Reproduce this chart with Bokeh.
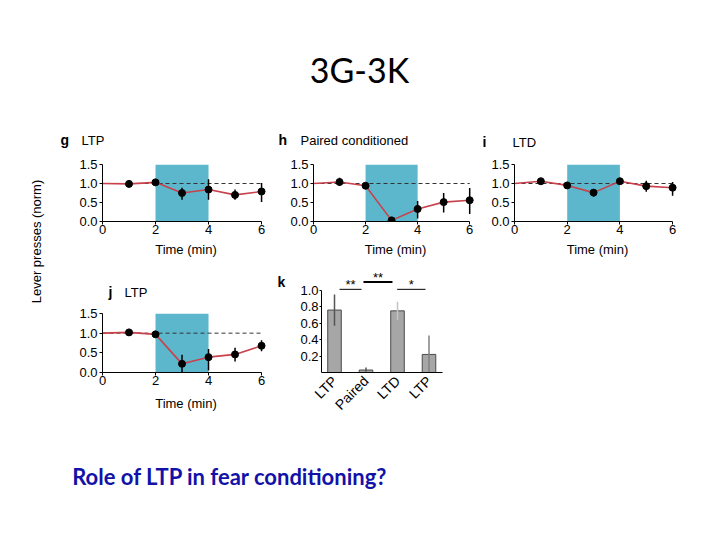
import math
from bokeh.plotting import figure
from bokeh.layouts import row, column
from bokeh.models import Range1d, FixedTicker, NumeralTickFormatter
from bokeh.embed import file_html
from bokeh.resources import INLINE
from bokeh.core.properties import value

FONT = "Liberation Sans"
TITLE_FONT = "Lato"
BIG_SHIFT = 7      # px correction for large alphabetic-baseline text
SMALL_SHIFT = 3.5  # px correction for small alphabetic-baseline text

# ---------------- data ----------------
slide_title = "3G-3K"
slide_question = "Role of LTP in fear conditioning?"
y_label = "Lever presses (norm)"
x_label = "Time (min)"

times = [1, 2, 3, 4, 5, 6]
baseline = 1.0
stim_start, stim_end = 2, 4
x_ticks = [0, 2, 4, 6]
y_ticks = [0.0, 0.5, 1.0, 1.5]

panel_letters = ["g", "h", "i", "j", "k"]
panel_names = ["LTP", "Paired conditioned", "LTD", "LTP", ""]

g_mean = [0.99, 1.03, 0.75, 0.84, 0.70, 0.79]
g_lo = [0.90, 0.96, 0.57, 0.57, 0.57, 0.51]
g_hi = [1.08, 1.10, 0.89, 1.11, 0.84, 1.01]

h_mean = [1.04, 0.94, 0.03, 0.33, 0.51, 0.56]
h_lo = [0.94, 0.90, 0.00, 0.08, 0.24, 0.20]
h_hi = [1.15, 0.98, 0.06, 0.54, 0.75, 0.88]

i_mean = [1.06, 0.95, 0.76, 1.06, 0.93, 0.89]
i_lo = [1.02, 0.91, 0.65, 0.98, 0.78, 0.68]
i_hi = [1.10, 0.99, 0.85, 1.14, 1.07, 1.04]

j_mean = [1.02, 0.97, 0.22, 0.39, 0.46, 0.68]
j_lo = [0.98, 0.93, 0.01, 0.05, 0.28, 0.54]
j_hi = [1.06, 1.01, 0.45, 0.60, 0.63, 0.82]

k_labels = ["LTP", "Paired", "LTD", "LTP"]
k_values = [0.76, 0.03, 0.75, 0.22]
k_lo = [0.57, 0.01, 0.64, 0.00]
k_hi = [0.95, 0.06, 0.86, 0.45]
k_err_colors = ["#555555", "#555555", "#c4c4c4", "#808080"]
k_ticks = [0.2, 0.4, 0.6, 0.8, 1.0]
k_sig_text = ["**", "**", "*"]
k_sig_x0 = [0.16, 0.92, 1.99]
k_sig_x1 = [0.86, 1.84, 2.89]
k_sig_y = [1.012, 1.10, 1.012]
k_sig_text_y = [1.075, 1.155, 1.065]
k_sig_w = [1, 2, 1]

SHADE = "#5db7cc"
RED = "#c8414b"


def blank(w, h):
    p = figure(width=w, height=h, x_range=Range1d(0, w), y_range=Range1d(0, h),
               output_backend="svg", toolbar_location=None,
               x_axis_type=None, y_axis_type=None, min_border=0)
    p.outline_line_color = None
    return p


def put_text(p, x, y, txt, size="13px", bold=False, font=FONT, color="black",
             align="left", baseline="alphabetic", angle=0.0):
    p.text(x=[x], y=[y], text=[txt], text_font=value(font), text_font_size=size,
           text_font_style="bold" if bold else "normal", text_align=align,
           text_baseline=baseline, text_color=color, angle=angle)


def style_axes(p):
    p.grid.visible = False
    p.outline_line_color = None
    for ax in p.axis:
        ax.axis_line_color = "black"
        ax.major_tick_line_color = "black"
        ax.major_tick_in = 0
        ax.major_tick_out = 3
        ax.minor_tick_line_color = None
        ax.major_label_text_font = FONT
        ax.major_label_text_font_size = "13px"
        ax.major_label_text_color = "black"
        ax.major_label_standoff = 2
        ax.axis_label_text_font = FONT
        ax.axis_label_text_font_size = "13px"
        ax.axis_label_text_font_style = "normal"
        ax.axis_label_text_color = "black"


def time_panel(fig_left, fig_top, fig_w, fig_h, x0, x6, ytop, ybot,
               mean, lo, hi, label_standoff=5):
    sx = (x6 - x0) / 6.0
    xmax = 6.3
    frame_w = round(xmax * sx)
    frame_h = round(ybot - ytop)
    left = x0 - fig_left
    top = ytop - fig_top
    p = figure(width=fig_w, height=fig_h,
               x_range=Range1d(0, xmax), y_range=Range1d(0, 1.5),
               output_backend="svg", toolbar_location=None,
               min_border_left=left, min_border_top=top,
               min_border_right=fig_w - left - frame_w,
               min_border_bottom=fig_h - top - frame_h)
    style_axes(p)
    p.xaxis.ticker = FixedTicker(ticks=x_ticks)
    p.xaxis.bounds = (0, 6)
    p.xaxis.major_label_standoff = 0
    p.xaxis.axis_label = x_label
    p.xaxis.axis_label_standoff = label_standoff
    p.yaxis.ticker = FixedTicker(ticks=y_ticks)
    p.yaxis.formatter = NumeralTickFormatter(format="0.0")

    p.quad(left=[stim_start], right=[stim_end], bottom=[y_ticks[0]], top=[y_ticks[-1]],
           fill_color=SHADE, line_color=None)
    p.line(x=[0, times[-1]], y=[baseline, baseline], line_color="#333333",
           line_width=1, line_dash="4 3")
    p.line(x=[0] + times, y=[baseline] + mean, line_color=RED, line_width=1.6)
    p.segment(x0=times, y0=lo, x1=times, y1=hi, line_color="black", line_width=1.5)
    p.scatter(x=times, y=mean, size=7, fill_color="black", line_color="black")
    return p


# ---------------- title (page y 0..120) ----------------
title_fig = blank(712, 120)
put_text(title_fig, 359, 120 - 76 + BIG_SHIFT, slide_title, size="34px",
         font=TITLE_FONT, align="center")

# ---------------- y label (x 0..52, y 120..425) ----------------
ylab = blank(52, 305)
put_text(ylab, 36, 305 - (241 - 120), y_label, size="13px", align="center",
         baseline="middle", angle=math.pi / 2)

# ---------------- row 1 titles strip (x 52..712, y 120..156) ----------------
S1_TOP, S1_H = 120, 36
strip1 = blank(660, S1_H)
for lx, nx, by, letter, name in [(60, 81, 143, panel_letters[0], panel_names[0]),
                                 (278, 300, 143, panel_letters[1], panel_names[1]),
                                 (482, 512, 145, panel_letters[2], panel_names[2])]:
    yy = S1_TOP + S1_H - by + SMALL_SHIFT
    put_text(strip1, lx - 52, yy, letter, size="14px", bold=True)
    put_text(strip1, nx - 52, yy, name, size="13px")

# ---------------- row 1 panels (y 156..265) ----------------
R1_TOP, R1_H = 156, 109
g = time_panel(52, R1_TOP, 220, R1_H, 102, 261, 164, 223, g_mean, g_lo, g_hi)
h = time_panel(272, R1_TOP, 206, R1_H, 313, 469, 164, 223, h_mean, h_lo, h_hi)
i = time_panel(478, R1_TOP, 234, R1_H, 514, 672, 163, 221, i_mean, i_lo, i_hi)

# ---------------- row 2 ----------------
J_STRIP_H = 41
jstrip = blank(220, J_STRIP_H)
put_text(jstrip, 60 - 52, 265 + J_STRIP_H - 295 + SMALL_SHIFT, panel_letters[3],
         size="14px", bold=True)
put_text(jstrip, 81 - 52, 265 + J_STRIP_H - 295 + SMALL_SHIFT, panel_names[3], size="13px")
j = time_panel(52, 265 + J_STRIP_H, 220, 160 - J_STRIP_H, 102, 261, 313, 372,
               j_mean, j_lo, j_hi, label_standoff=8)

kletter = blank(24, 160)
put_text(kletter, 277 - 272, 425 - 292 + SMALL_SHIFT, panel_letters[4], size="14px", bold=True)

# bar panel k (x 296..478, y 265..425)
k_left, k_top, k_w, k_h = 296, 265, 182, 160
kx_first, kx_step = 334, 31.5
ky0, ky_scale = 372.5, 82.5
k_xr = ((321 - kx_first) / kx_step, (442 - kx_first) / kx_step)
k_ymax = 1.29
k_top_border = round(ky0 - k_ymax * ky_scale - k_top)
k_frame_h = round(k_ymax * ky_scale)
k = figure(width=k_w, height=k_h,
           x_range=Range1d(*k_xr), y_range=Range1d(0, k_ymax),
           output_backend="svg", toolbar_location=None,
           min_border_left=321 - k_left, min_border_top=k_top_border,
           min_border_right=k_w - (321 - k_left) - 121,
           min_border_bottom=k_h - k_top_border - k_frame_h)
style_axes(k)
xs = list(range(len(k_labels)))
k.xaxis.ticker = FixedTicker(ticks=xs)
k.xaxis.major_label_overrides = {x: lab for x, lab in zip(xs, k_labels)}
k.xaxis.major_label_orientation = math.pi / 4
k.xaxis.major_label_text_font_size = "14px"
k.xaxis.major_tick_out = 0
k.xaxis.major_label_standoff = 6
k.yaxis.ticker = FixedTicker(ticks=k_ticks)
k.yaxis.formatter = NumeralTickFormatter(format="0.0")
k.yaxis.bounds = (0, 1.0)
k.yaxis.major_tick_out = 2
k.yaxis.major_label_standoff = 1
k.vbar(x=xs, top=k_values, bottom=0, width=0.43, fill_color="#a6a6a6",
       line_color="#4a4a4a", line_width=1)
k.segment(x0=xs, y0=k_lo, x1=xs, y1=k_hi, line_color=k_err_colors, line_width=1.5)
k.segment(x0=k_sig_x0, y0=k_sig_y, x1=k_sig_x1, y1=k_sig_y, line_color="black",
          line_width=k_sig_w)
k.text(x=[(a + b) / 2 for a, b in zip(k_sig_x0, k_sig_x1)],
       y=k_sig_text_y, text=k_sig_text, text_font=value(FONT),
       text_font_size="13px", text_align="center", text_baseline="alphabetic",
       text_color="black")

# ---------------- bottom text (y 425..535) ----------------
bottom_fig = blank(712, 110)
put_text(bottom_fig, 71.7, 110 - (482.7 - 425) + BIG_SHIFT, slide_question, size="22px",
         bold=True, font=TITLE_FONT, color="#1212a8")

layout = column(
    title_fig,
    row(ylab,
        column(strip1,
               row(g, h, i),
               row(column(jstrip, j), kletter, k))),
    bottom_fig)

open("out.html", "w").write(file_html(layout, INLINE))
